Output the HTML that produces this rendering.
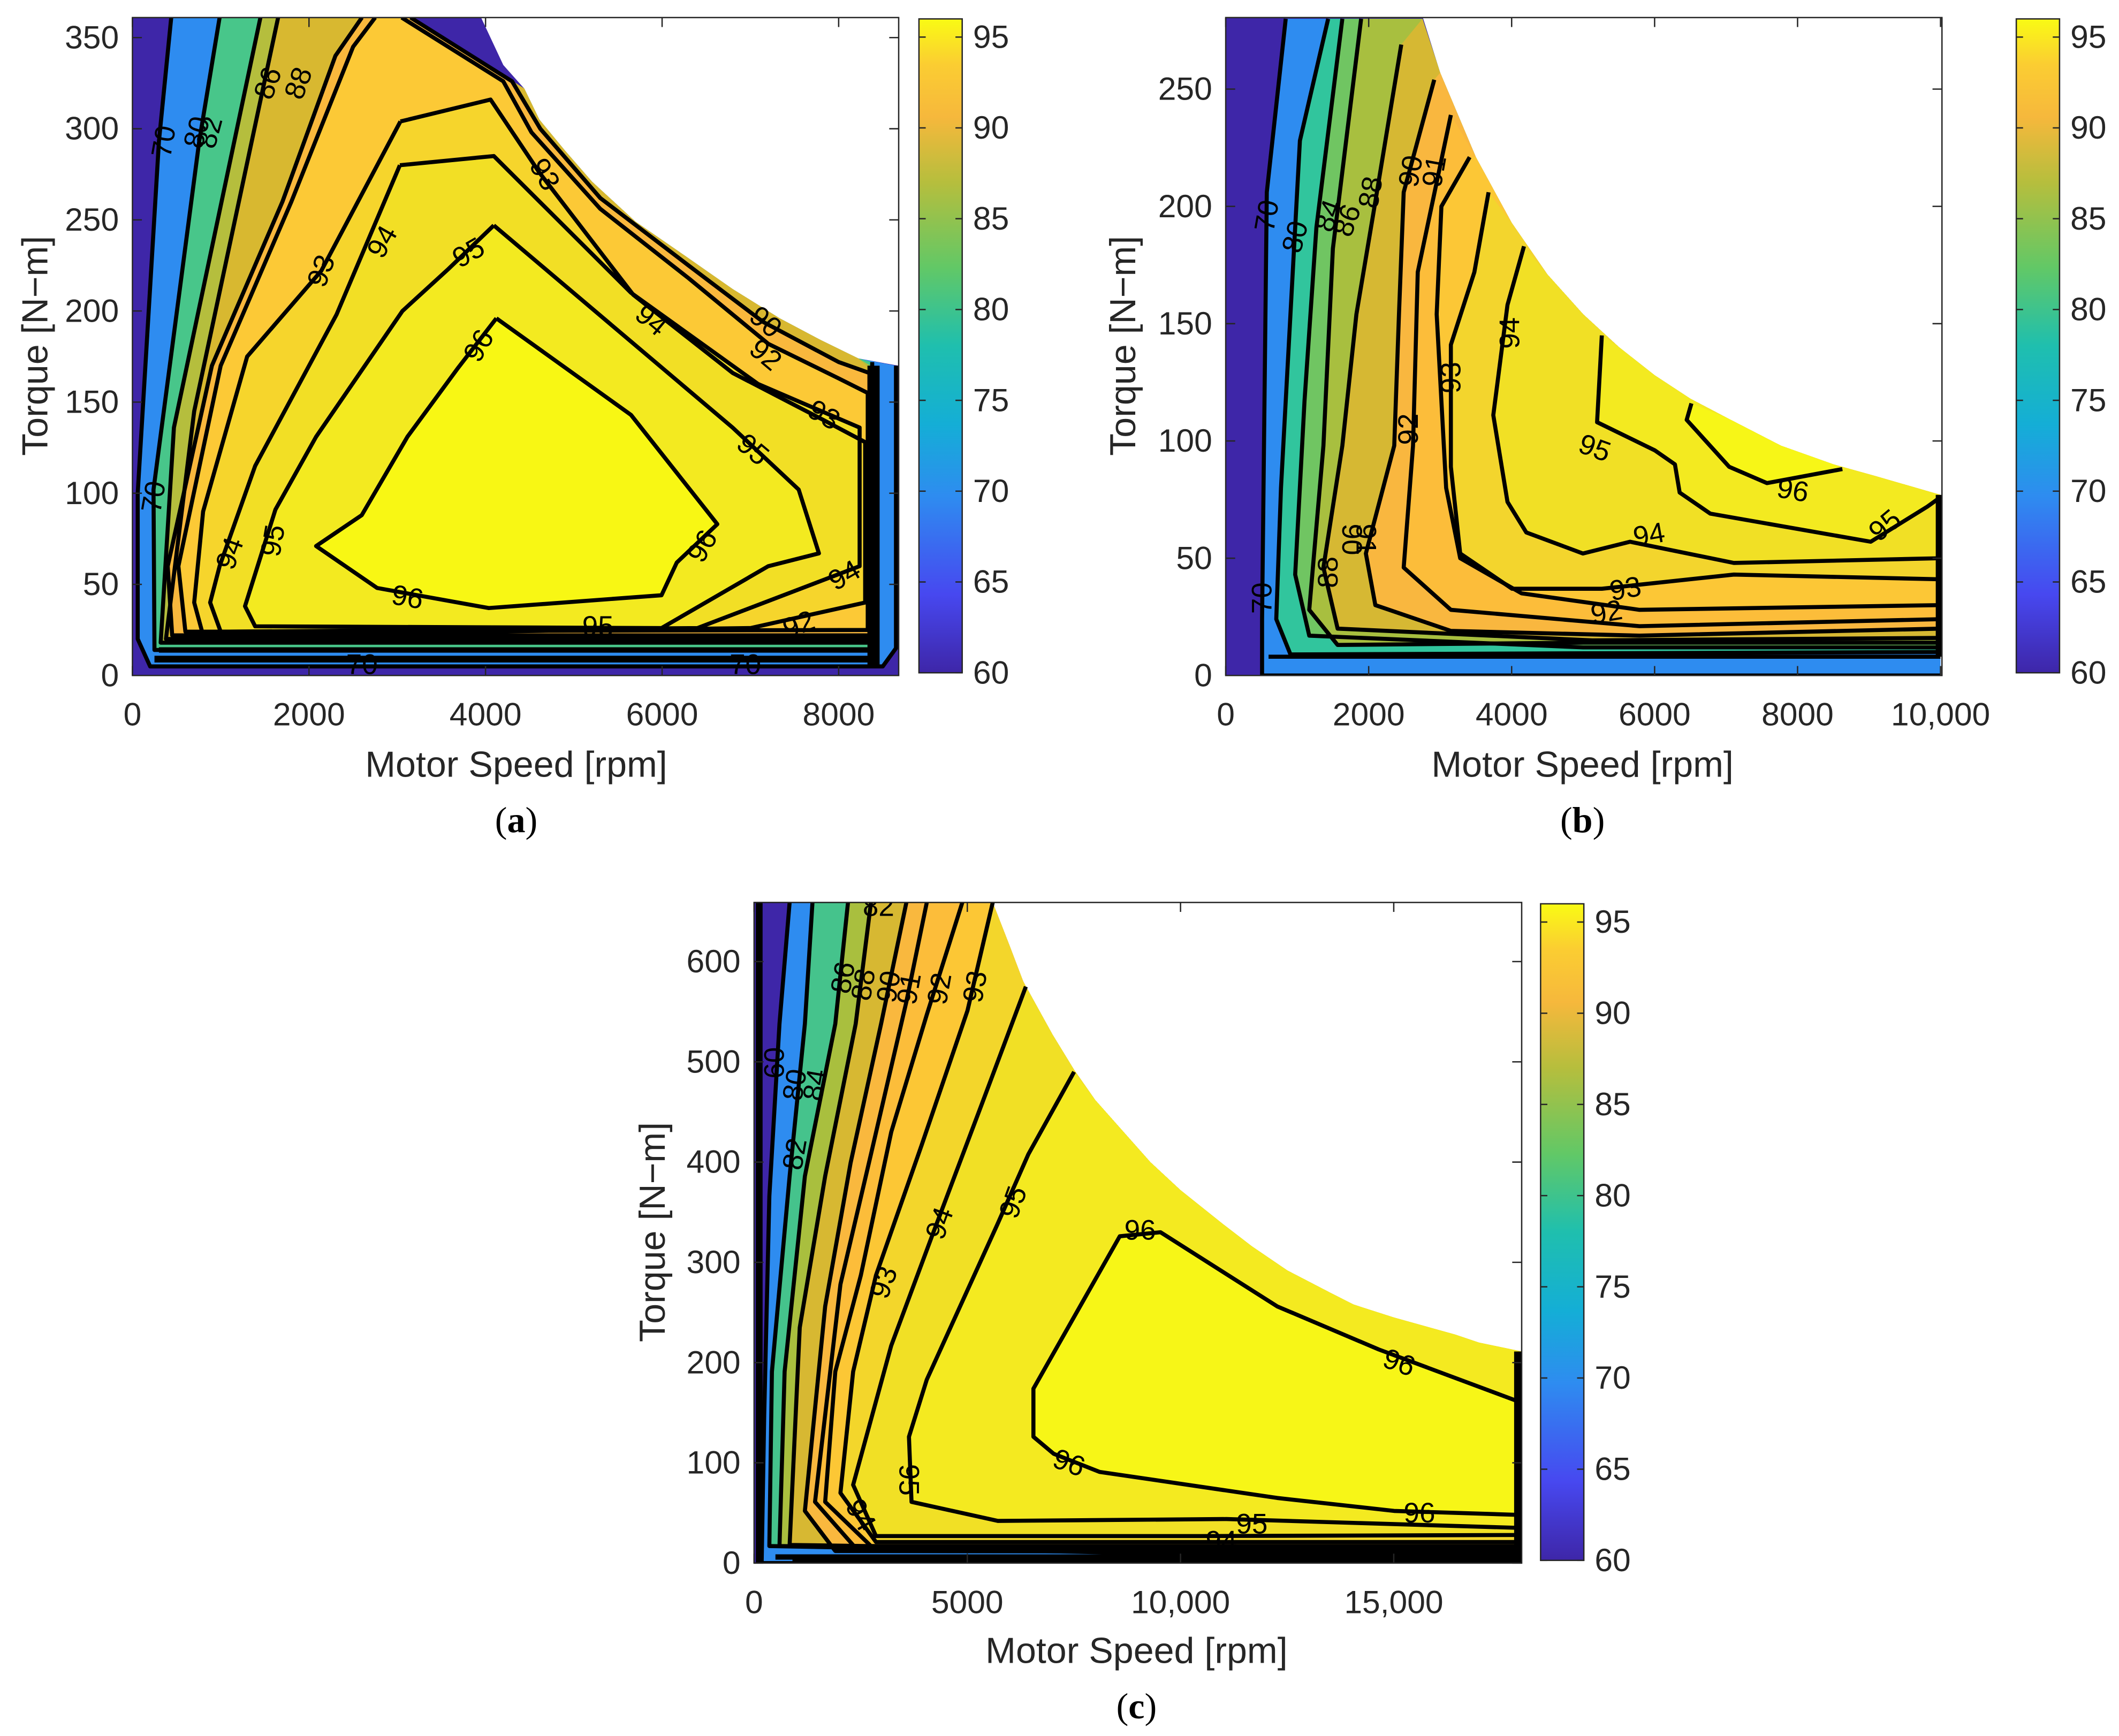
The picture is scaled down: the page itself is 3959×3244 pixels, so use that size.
<!DOCTYPE html>
<html><head><meta charset="utf-8"><title>Motor efficiency maps</title>
<style>html,body{margin:0;padding:0;background:#fff}svg{display:block}</style></head>
<body>
<svg id="chart" xmlns="http://www.w3.org/2000/svg" width="3959" height="3244" viewBox="0 0 1568 1285" preserveAspectRatio="none">
<defs>
<linearGradient id="parula" x1="0" y1="1" x2="0" y2="0">
<stop offset="0" stop-color="#3e26a8"/><stop offset="0.12" stop-color="#4748f0"/>
<stop offset="0.27" stop-color="#2e8cf0"/><stop offset="0.38" stop-color="#14aed6"/>
<stop offset="0.5" stop-color="#1fbfae"/><stop offset="0.62" stop-color="#62c866"/>
<stop offset="0.75" stop-color="#b6be3d"/><stop offset="0.85" stop-color="#f6b83c"/>
<stop offset="0.93" stop-color="#fbcd32"/><stop offset="1" stop-color="#f9fb14"/>
</linearGradient>
</defs>
</svg>
<script>
const NS='http://www.w3.org/2000/svg';
const svg=document.getElementById('chart');

// ---------- Panel (a) data ----------
const aLevels=[70,80,86,88,90,92,93,94,95,96];
const aFills=['#2e8cf0','#48c68a','#b5be3d','#d8b830','#f9b83d','#fcc936','#f6d52c','#f2df25','#f3ea20','#f8f714'];
const aLines=[
 [[440,361],[300,293],[60,100],[60,20],[200,5],[8500,5],[8650,15],[8650,170]],
 [[987,361],[757,293],[239,102],[250,14],[8380,14],[8380,172]],
 [[1450,361],[470,136],[320,18],[8360,18],[8360,170]],
 [[1650,361],[700,145],[380,20],[8360,20],[8360,168]],
 [[3150,361],[4300,326],[4620,300],[5300,262],[6300,225],[7144,194],[8000,172],[8350,166],[8350,22],[450,22],[400,60],[900,170],[1700,260],[2300,340],[2600,361]],
 [[3050,361],[4200,326],[4520,298],[5300,256],[6300,218],[7202,182],[8000,163],[8330,155],[8330,25],[600,24],[520,60],[1000,170],[1800,260],[2500,345],[2750,361]],
 [[3036,304],[4057,316],[4610,276],[5672,209],[6800,166],[7834,140],[8300,128],[8300,40],[7000,26],[800,22],[700,40],[800,90],[1300,175],[2138,222],[3036,304]],
 [[3030,280],[4094,285],[5648,210],[7087,160],[8237,136],[8237,60],[6400,26],[1000,24],[880,40],[987,60],[1390,115],[2311,198],[3030,280]],
 [[4094,247],[6799,136],[7547,102],[7777,67],[7202,60],[5993,26],[1390,27],[1275,38],[1620,91],[2080,131],[3059,200],[3577,223],[4094,247]],
 [[4123,196],[5648,143],[6626,83],[6166,62],[5993,44],[4037,37],[2771,48],[2080,71],[2598,88],[3116,131],[3692,169],[4123,196]]
];
const aEnv=[[3100,361],[3800,342],[4440,322],[4610,305],[4900,288],[5205,271],[5700,249],[6268,230],[6800,212],[7332,196],[7800,184],[8222,174],[8650,170]];
const aOuter=[[3950,361],[4200,335],[4440,322],[4610,305],[4900,288],[5205,271],[5700,249],[6268,230],[6800,212],[7332,196],[7800,184],[8222,174],[8680,170]];
const aLabels=[['96',3922,181,-60],['96',3116,43,10],['96',6454,71,-60],['95',3807,232,-30],['95',7029,124,40],['95',1591,74,-80],['95',5274,27,0],['94',2829,238,-60],['94',5878,195,40],['94',1102,67,-70],['94',8064,55,-30],['93',4670,275,60],['93',2138,222,-70],['93',7834,143,30],['92',7547,28,-20],['90',7173,194,40],['92',7173,176,40],['88',1880,325,-70],['86',1534,325,-70],['82',872,298,-75],['80',728,298,-75],['70',354,293,-80],['70',240,98,-80],['70',2600,6,0],['70',6943,6,0]];
const aExtras=[[[[250,9],[8390,9]],5],[[[300,14],[8390,14]],4],[[[8395,5],[8395,170]],9]];
const aXTicks=[0,2000,4000,6000,8000];
const aXTickLabels=['0','2000','4000','6000','8000'];
const aYTicks=[0,50,100,150,200,250,300,350];
const aYTickLabels=['0','50','100','150','200','250','300','350'];

// ---------- Panel (b) data ----------
const bLevels=[70,80,84,86,88,90,91,92,93,94,95,96];
const bFills=['#2e8cf0','#31c59d','#70c562','#a8bf3f','#d6b833','#f9b73f','#fcbd3a','#fcc736','#f3d52d','#f1e025','#f3ea20','#f7f617'];
const bLines=[
 [[839,280],[575,206],[509,24],[509,0],[10000,0]],
 [[1433,280],[1037,228],[905,154],[773,80],[707,24],[905,9],[10000,10]],
 [[1631,280],[1268,191],[1103,117],[971,43],[1169,17],[5000,12],[10000,12]],
 [[1895,280],[1499,182],[1367,98],[1169,28],[1565,13],[5000,14],[10000,14]],
 [[2456,269],[2093,202],[1829,154],[1631,98],[1367,46],[1565,20],[5129,15],[10000,16]],
 [[2918,254],[2489,206],[2423,154],[2357,98],[1961,52],[2093,30],[3149,19],[5789,17],[10000,20]],
 [[3149,239],[2687,172],[2621,98],[2489,46],[3149,28],[5789,21],[10000,24]],
 [[3413,221],[3017,200],[2951,154],[3083,80],[3281,50],[4139,35],[5789,28],[10000,30]],
 [[3677,206],[3479,172],[3149,141],[3149,89],[3281,52],[4007,37],[5261,37],[7109,43],[10000,41]],
 [[4172,183],[3941,158],[3743,111],[3941,74],[4205,61],[4997,52],[5657,57],[7109,48],[10000,50]],
 [[5261,145],[5195,108],[6001,96],[6284,90],[6350,78],[6779,69],[9023,57],[9815,72],[10000,76]],
 [[6515,116],[6449,109],[7043,89],[7571,82],[8627,88]]
];
const bEnv=[[2753,280],[3000,257],[3500,221],[4000,193],[4500,171],[5000,154],[5500,140],[6000,128],[6500,118],[7000,110],[7769,98],[8500,90],[9089,85],[10000,77]];
const bOuter=[[2753,281],[3000,257],[3500,221],[4000,193],[4500,171],[5000,154],[5500,140],[6000,128],[6500,118],[7000,110],[7769,98],[8500,90],[9089,85],[10000,77]];
const bLabels=[['70',575,196,-80],['80',971,187,-75],['84',1433,196,-70],['86',1697,194,-70],['88',2027,206,-80],['90',2588,215,-80],['91',2918,215,-80],['92',2555,105,-90],['93',3149,127,-90],['94',3974,146,-90],['95',5162,97,20],['96',7934,79,10],['95',9221,64,-40],['94',5921,60,-10],['93',5591,37,-10],['92',5327,27,-10],['90',1763,58,90],['91',1961,58,90],['88',1433,44,-90],['70',509,33,-90]];
const bExtras=[[[[10000,8],[10000,77]],7],[[[600,8],[10000,8]],3]];
const bXTicks=[0,2000,4000,6000,8000,10000];
const bXTickLabels=['0','2000','4000','6000','8000','10,000'];
const bYTicks=[0,50,100,150,200,250];
const bYTickLabels=['0','50','100','150','200','250'];

// ---------- Panel (c) data ----------
const cLevels=[70,80,86,88,90,91,92,93,94,95,96];
const cFills=['#2e8cf0','#45c38c','#a9bf3e','#d7b832','#f9b83e','#fcbd3a','#fcc735','#f3d62b','#f1e025','#f4ea20','#f7f617'];
const cLines=[
 [[834,659],[596,538],[358,366],[238,148],[179,0],[18000,0]],
 [[1370,659],[1191,538],[834,386],[417,191],[358,17],[18000,3]],
 [[2203,659],[1906,538],[1191,386],[715,191],[596,17],[18000,5]],
 [[2740,659],[2382,538],[1668,386],[1072,235],[834,18],[18000,8]],
 [[3573,659],[2978,538],[2263,399],[1668,256],[1191,52],[1906,12],[18000,11]],
 [[4050,659],[3573,560],[2740,408],[2025,278],[1430,61],[2382,15],[18000,14]],
 [[4883,659],[4050,547],[3216,430],[2502,287],[1906,191],[1668,61],[2740,17],[18000,17]],
 [[5598,659],[5003,551],[3931,417],[2859,287],[2323,191],[2025,70],[2859,21],[18000,21]],
 [[6372,575],[5360,460],[4169,326],[3216,217],[2323,78],[2859,27],[10481,27],[18000,28]],
 [[7503,490],[6432,408],[5717,339],[4050,183],[3633,126],[3692,61],[5717,42],[11077,44],[18000,35]],
 [[18000,160],[14650,213],[12268,256],[9528,330],[8575,326],[6551,174],[6551,126],[7027,109],[8099,91],[12268,65],[15007,52],[18000,48]]
];
const cEnv=[[5598,659],[6000,615],[6313,580],[7000,527],[7503,492],[8000,462],[9290,400],[10000,372],[11000,338],[11672,316],[12500,292],[13500,270],[14054,258],[15000,245],[16436,228],[17000,220],[18000,211]];
const cOuter=[[5598,659],[6000,615],[6313,580],[7000,527],[7503,492],[8000,462],[9290,400],[10000,372],[11000,338],[11672,316],[12500,292],[13500,270],[14054,258],[15000,245],[16436,228],[17000,220],[18000,211]];
const cLabels=[['96',9052,332,0],['96',15126,200,20],['96',7384,100,20],['96',15602,50,0],['95',6074,360,-70],['95',3633,83,90],['95',11672,39,0],['94',4347,339,-70],['94',2502,48,60],['94',10957,22,0],['93',5181,575,-80],['93',3037,280,-70],['92',4347,573,-80],['91',3633,573,-80],['90',3156,575,-80],['88',2561,577,-80],['86',2084,584,-80],['82',2918,655,0],['60',477,499,-90],['80',953,477,-80],['84',1430,477,-80],['82',953,408,-80]];
const cExtras=[[[[17950,0],[17950,211]],8],[[[120,0],[120,659]],5],[[[500,6],[18000,6]],4],[[[900,2],[18000,2]],4]];
const cXTicks=[0,5000,10000,15000];
const cXTickLabels=['0','5000','10,000','15,000'];
const cYTicks=[0,100,200,300,400,500,600];
const cYTickLabels=['0','100','200','300','400','500','600'];

const cbTicks=[60,65,70,75,80,85,90,95];
const cbTickLabels=['60','65','70','75','80','85','90','95'];

function add(tag,parent){const e=document.createElementNS(NS,tag);parent.appendChild(e);return e;}

function drawPanel(P){
  const g=add('g',svg);
  
  
  const xs=v=>P.x0+v/P.xmax*(P.x1-P.x0);
  const ys=v=>P.y0-v/P.ymax*(P.y0-P.y1);
  const pts=a=>a.map(p=>xs(p[0]).toFixed(1)+','+ys(p[1]).toFixed(1)).join(' ');
  const cp=add('clipPath',g); cp.setAttribute('id','clip-'+P.name);
  const cr=add('rect',cp);
  cr.setAttribute('x',P.x0);cr.setAttribute('y',P.y1);cr.setAttribute('width',P.x1-P.x0);cr.setAttribute('height',P.y0-P.y1);
  const plot=add('g',g);
  plot.setAttribute('clip-path','url(#clip-'+P.name+')');
  
  
  const base=add('polygon',plot);
  
  
  base.setAttribute('points',pts([[0,0],[0,P.ymax]].concat(P.outer).concat([[P.outer[P.outer.length-1][0],0]])));
  base.setAttribute('fill','#3e26a8');
  P.lines.forEach((ln,i)=>{
    const xsn=ln[0][0], xe=ln[ln.length-1][0];
    const poly=ln.slice();
    for(let k=P.env.length-1;k>=0;k--){const e=P.env[k]; if(e[0]<=xe+1 && e[0]>xsn) poly.push(e);}
    const r=add('polygon',plot);
    
    
    r.setAttribute('points',pts(poly));
    r.setAttribute('fill',P.fills[i]);
  });
  P.lines.forEach((ln,i)=>{
    const l=add('polyline',plot);
    
    
    l.setAttribute('points',pts(ln));
    l.setAttribute('fill','none');l.setAttribute('stroke','#000');l.setAttribute('stroke-width','3');
    l.setAttribute('stroke-linejoin','round');
  });
  P.extras.forEach(ex=>{
    const l=add('polyline',plot);
    
    
    l.setAttribute('points',pts(ex[0]));
    l.setAttribute('fill','none');l.setAttribute('stroke','#000');l.setAttribute('stroke-width',ex[1]);
  });
  P.labels.forEach(lb=>{
    const t=add('text',plot);
    
    
    const x=xs(lb[1]),y=ys(lb[2]);
    t.setAttribute('x',x);t.setAttribute('y',y+7);
    t.setAttribute('text-anchor','middle');
    t.setAttribute('font-size','21');
    t.setAttribute('font-family','Liberation Sans, sans-serif');
    t.setAttribute('transform','rotate('+lb[3]+' '+x+' '+y+')');
    t.textContent=lb[0];
  });
  const box=add('rect',g);
  
  
  box.setAttribute('x',P.x0);box.setAttribute('y',P.y1);box.setAttribute('width',P.x1-P.x0);box.setAttribute('height',P.y0-P.y1);
  box.setAttribute('fill','none');box.setAttribute('stroke','#262626');box.setAttribute('stroke-width','1');
  P.xt.forEach((v,i)=>{
    const x=xs(v);
    [[P.y0,-7],[P.y1,7]].forEach(s=>{const tk=add('line',g);
      
      
      tk.setAttribute('x1',x);tk.setAttribute('x2',x);tk.setAttribute('y1',s[0]);tk.setAttribute('y2',s[0]+s[1]);tk.setAttribute('stroke','#262626');});
    const t=add('text',g);
    
    
    t.setAttribute('x',x);t.setAttribute('y',P.y0+37);t.setAttribute('text-anchor','middle');
    t.setAttribute('font-size','24');t.setAttribute('fill','#262626');t.setAttribute('font-family','Liberation Sans, sans-serif');
    t.textContent=P.xtl[i];
  });
  P.yt.forEach((v,i)=>{
    const y=ys(v);
    [[P.x0,7],[P.x1,-7]].forEach(s=>{const tk=add('line',g);
      
      
      tk.setAttribute('y1',y);tk.setAttribute('y2',y);tk.setAttribute('x1',s[0]);tk.setAttribute('x2',s[0]+s[1]);tk.setAttribute('stroke','#262626');});
    const t=add('text',g);
    
    
    t.setAttribute('x',P.x0-10);t.setAttribute('y',y+8);t.setAttribute('text-anchor','end');
    t.setAttribute('font-size','24');t.setAttribute('fill','#262626');t.setAttribute('font-family','Liberation Sans, sans-serif');
    t.textContent=P.ytl[i];
  });
  const xt=add('text',g);
  
  
  xt.setAttribute('x',P.xtx);xt.setAttribute('y',P.xty);xt.setAttribute('text-anchor','middle');
  xt.setAttribute('font-size','27');xt.setAttribute('fill','#262626');xt.setAttribute('font-family','Liberation Sans, sans-serif');
  xt.textContent='Motor Speed [rpm]';
  const yt=add('text',g);
  
  
  yt.setAttribute('x',P.ytx);yt.setAttribute('y',P.yty);yt.setAttribute('text-anchor','middle');
  yt.setAttribute('font-size','27');yt.setAttribute('fill','#262626');yt.setAttribute('font-family','Liberation Sans, sans-serif');
  yt.setAttribute('transform','rotate(-90 '+P.ytx+' '+P.yty+')');
  yt.textContent='Torque [N\u2212m]';
  const pl=add('text',g);
  
  
  pl.setAttribute('x',P.xtx);pl.setAttribute('y',P.xty+41);pl.setAttribute('text-anchor','middle');
  pl.setAttribute('font-size','27');pl.setAttribute('font-family','Liberation Serif, serif');
  pl.innerHTML='(<tspan font-weight="bold">'+P.letter+'</tspan>)';
  const cb=add('g',g);
  
  
  const cys=v=>P.cb60-(v-60)*(P.cb60-P.cb96)/36;
  const cr2=add('rect',cb);
  
  
  cr2.setAttribute('x',P.cbx);cr2.setAttribute('y',P.cb96);cr2.setAttribute('width',32);cr2.setAttribute('height',P.cb60-P.cb96);
  cr2.setAttribute('fill','url(#parula)');cr2.setAttribute('stroke','#262626');cr2.setAttribute('stroke-width','1');
  cbTicks.forEach((v,i)=>{
    const y=cys(v);
    [[P.cbx,5],[P.cbx+32,-5]].forEach(s=>{const tk=add('line',cb);
      
      
      tk.setAttribute('y1',y);tk.setAttribute('y2',y);tk.setAttribute('x1',s[0]);tk.setAttribute('x2',s[0]+s[1]);tk.setAttribute('stroke','#262626');});
    const t=add('text',cb);
    
    
    t.setAttribute('x',P.cbx+40);t.setAttribute('y',y+8);
    t.setAttribute('font-size','24');t.setAttribute('fill','#262626');t.setAttribute('font-family','Liberation Sans, sans-serif');
    t.textContent=cbTickLabels[i];
  });
}

drawPanel({name:'panel-a',letter:'a',x0:98,x1:665,y0:500,y1:13,xmax:8680,ymax:361,
  levels:aLevels,fills:aFills,lines:aLines,env:aEnv,outer:aOuter,labels:aLabels,extras:aExtras,
  xt:aXTicks,xtl:aXTickLabels,yt:aYTicks,ytl:aYTickLabels,xtx:382,xty:575,ytx:35,yty:256,
  cbx:680,cb60:498,cb96:14});
drawPanel({name:'panel-b',letter:'b',x0:907,x1:1437,y0:500,y1:13,xmax:10020,ymax:280.5,
  levels:bLevels,fills:bFills,lines:bLines,env:bEnv,outer:bOuter,labels:bLabels,extras:bExtras,
  xt:bXTicks,xtl:bXTickLabels,yt:bYTicks,ytl:bYTickLabels,xtx:1171,xty:575,ytx:840,yty:256,
  cbx:1492,cb60:498,cb96:14});
drawPanel({name:'panel-c',letter:'c',x0:558,x1:1126,y0:1157,y1:668,xmax:18000,ymax:659,
  levels:cLevels,fills:cFills,lines:cLines,env:cEnv,outer:cOuter,labels:cLabels,extras:cExtras,
  xt:cXTicks,xtl:cXTickLabels,yt:cYTicks,ytl:cYTickLabels,xtx:841,xty:1231,ytx:492,yty:912,
  cbx:1140,cb60:1155,cb96:669});
</script>
</body></html>
